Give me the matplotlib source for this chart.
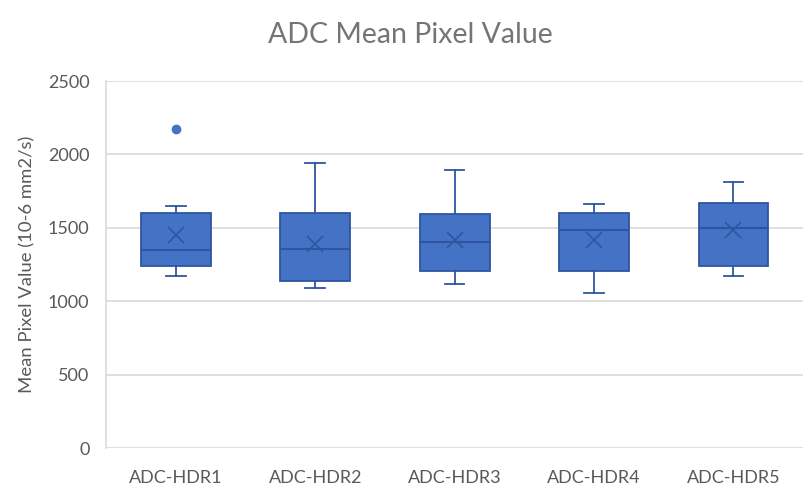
import matplotlib
matplotlib.use("Agg")
import matplotlib.pyplot as plt

plt.rcParams['font.family'] = ['Lato', 'DejaVu Sans']

# summary statistics per sequence (Excel-style box and whisker)
labels = ['ADC-HDR1', 'ADC-HDR2', 'ADC-HDR3', 'ADC-HDR4', 'ADC-HDR5']
q1 = [1243, 1137, 1204, 1204, 1243]
median = [1347, 1359, 1404, 1485, 1499]
q3 = [1600, 1600, 1592, 1600, 1673]
mean = [1449, 1388, 1415, 1415, 1483]
whisker_lo = [1173, 1091, 1116, 1057, 1173]
whisker_hi = [1646, 1940, 1893, 1660, 1814]
outliers = [[2171], [], [], [], []]

fill = '#4472C4'
edge = '#2F55A0'
text_grey = '#595959'
grid_grey = '#D9D9D9'

stats = []
for i, lab in enumerate(labels):
    stats.append(dict(label=lab, q1=q1[i], med=median[i], q3=q3[i],
                      mean=mean[i], whislo=whisker_lo[i],
                      whishi=whisker_hi[i], fliers=outliers[i]))

fig = plt.figure(figsize=(8.04, 4.88), dpi=100)
ax = fig.add_axes([0.132, 0.0814, 0.867, 0.7526])

ax.bxp(stats, positions=range(len(labels)), widths=0.5, capwidths=0.14,
       showmeans=True, meanline=False, patch_artist=True,
       boxprops=dict(facecolor=fill, edgecolor=edge, linewidth=1.3),
       medianprops=dict(color=edge, linewidth=1.5),
       whiskerprops=dict(color=edge, linewidth=1.3),
       capprops=dict(color=edge, linewidth=1.3),
       meanprops=dict(marker='x', markeredgecolor=edge, markersize=12,
                      markeredgewidth=1.2),
       flierprops=dict(marker='o', markerfacecolor=fill, markeredgecolor=fill,
                       markersize=6))

ax.set_xlim(-0.5, len(labels) - 0.5)
ax.set_ylim(0, 2500)
ax.set_yticks(range(0, 2501, 500))
ax.yaxis.grid(True, color=grid_grey, linewidth=1.2)
ax.set_axisbelow(True)

for side in ['top', 'right', 'bottom']:
    ax.spines[side].set_visible(False)
ax.spines['left'].set_color(grid_grey)
ax.spines['left'].set_linewidth(1.2)

ax.tick_params(axis='both', length=0, labelsize=13, labelcolor=text_grey)
ax.tick_params(axis='x', pad=16)
ax.tick_params(axis='y', pad=12)

ax.set_ylabel('Mean Pixel Value (10-6 mm2/s)', fontsize=13.3,
              color=text_grey, labelpad=9)
fig.suptitle('ADC Mean Pixel Value', x=0.51, y=0.955, fontsize=20.5,
             color='#757575')

fig.savefig('out.png', dpi=100)
